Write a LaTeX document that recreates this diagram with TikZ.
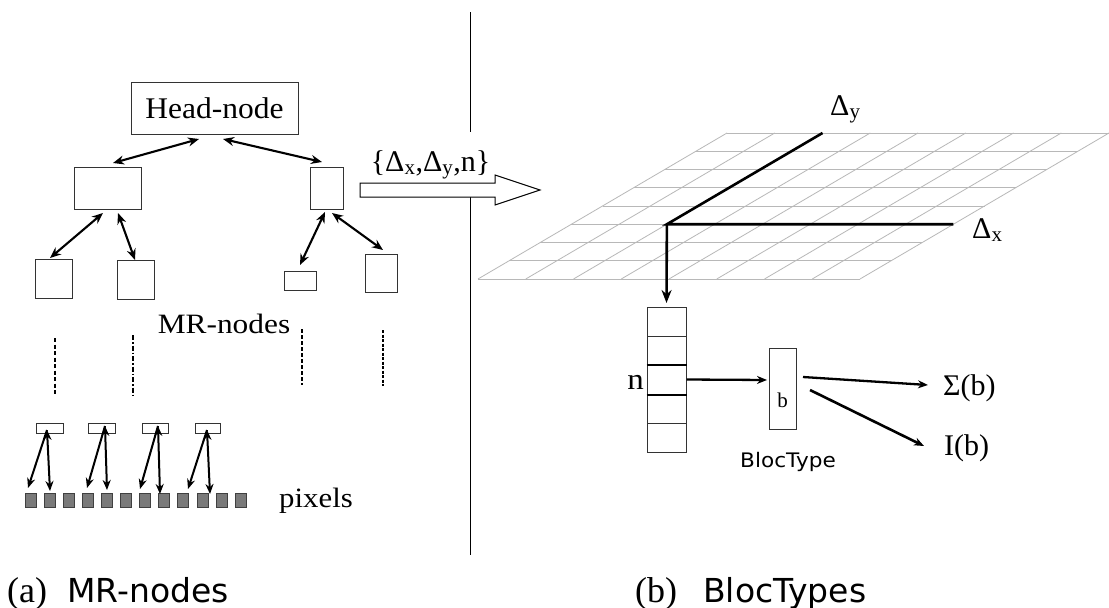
\documentclass[tikz,border=0pt]{standalone}
\usepackage{fontspec}
\setmainfont{Liberation Serif}
\newfontfamily\dvs{DejaVu Sans}
\usetikzlibrary{arrows.meta}
\newcommand\fs[1]{\fontsize{#1}{#1}\selectfont}
\begin{document}
\begin{tikzpicture}[x=1pt,y=-1pt,
  box/.style={draw=black!80, line width=1pt, inner sep=0pt, fill=white},
  pix/.style={draw=black!75, line width=0.8pt, fill=black!52, minimum width=11pt, minimum height=14pt, inner sep=0pt},
  txt/.style={inner sep=0pt, anchor=base},
  tarr/.style={line width=2.1pt, {Stealth[length=11pt,width=9pt]}-{Stealth[length=11pt,width=9pt]}},
  sarr/.style={line width=2pt, -{Stealth[length=10pt,width=8pt]}},
  sarrb/.style={line width=2pt, {Stealth[length=10pt,width=8pt]}-{Stealth[length=10pt,width=8pt]}},
  barr/.style={line width=2.6pt, -{Stealth[length=13pt,width=10pt]}},
  gridl/.style={draw=black!28, line width=0.8pt},
  axis/.style={line width=2.6pt},
]
\useasboundingbox (0,0) rectangle (1109,608);
\fill[white] (0,0) rectangle (1109,608);

% divider
\draw[line width=1pt] (470,12) -- (470,132);
\draw[line width=1pt] (470,197) -- (470,555);

% ---------------- left: tree ----------------
\node[box, minimum width=167pt, minimum height=52pt] (H) at (214.5,108) {};
\node[txt] (Ht) at (214.5,118) {\fs{30}\scalebox{1.05}[1]{Head-node}};
\node[box, minimum width=67pt, minimum height=42pt] (L1) at (107.5,188) {};
\node[box, minimum width=33pt, minimum height=42pt] (R1) at (326.5,188) {};
\node[box, minimum width=37pt, minimum height=39pt] (LL) at (53.5,278.5) {};
\node[box, minimum width=37pt, minimum height=39pt] (LR) at (135.5,279.5) {};
\node[box, minimum width=32pt, minimum height=19pt] (RL) at (300,280.5) {};
\node[box, minimum width=32pt, minimum height=38pt] (RR) at (381,273) {};

\coordinate (h1) at (199,139); \coordinate (l1t) at (113,163);
\coordinate (h2) at (223,139); \coordinate (r1t) at (322,162);
\coordinate (l1a) at (103,213); \coordinate (llt) at (50,258);
\coordinate (l1b) at (118,213); \coordinate (lrt) at (135,260);
\coordinate (r1a) at (325,212); \coordinate (rlt) at (300,265);
\coordinate (r1b) at (332,213); \coordinate (rrt) at (383,250);
\draw[tarr] (h1) -- (l1t);
\draw[tarr] (h2) -- (r1t);
\draw[tarr] (l1a) -- (llt);
\draw[tarr] (l1b) -- (lrt);
\draw[tarr] (r1a) -- (rlt);
\draw[tarr] (r1b) -- (rrt);

\node[txt] (mr) at (224,333) {\fs{28}\scalebox{1.12}[1]{MR-nodes}};

% dashed continuations
\coordinate (d1a) at (55,338); \coordinate (d1b) at (55,395);
\coordinate (d2a) at (133,335); \coordinate (d2b) at (133,397);
\coordinate (d3a) at (302,329); \coordinate (d3b) at (302,385);
\coordinate (d4a) at (383,330); \coordinate (d4b) at (383,386);
\draw[line width=1.6pt, dash pattern=on 4pt off 2.5pt] (d1a) -- (d1b);
\draw[line width=1.4pt, dash pattern=on 5pt off 2pt on 1.5pt off 2pt] (d2a) -- (d2b);
\draw[line width=1.8pt, dash pattern=on 4pt off 2pt] (d3a) -- (d3b);
\draw[line width=2.6pt, dash pattern=on 3pt off 1.5pt] (d4a) -- (d4b);

% lowest level boxes
\node[box, minimum width=27pt, minimum height=10pt] (s1) at (49.5,428) {};
\node[box, minimum width=27pt, minimum height=10pt] (s2) at (101.5,428) {};
\node[box, minimum width=26pt, minimum height=10pt] (s3) at (155,428) {};
\node[box, minimum width=25pt, minimum height=10pt] (s4) at (207.5,428) {};

% pixels
\foreach \i in {0,...,11} {
  \node[pix] (p\i) at ({30.5+19.1*\i},500) {};
}
\node[txt] (pxl) at (316,507) {\fs{28}\scalebox{1.1}[1]{pixels}};

\coordinate (s1b) at (47,430); \coordinate (s1d) at (28,488); \coordinate (s1v) at (50,491);
\coordinate (s2b) at (105,426); \coordinate (s2d) at (87,488); \coordinate (s2v) at (107,490);
\coordinate (s3b) at (158,426); \coordinate (s3d) at (140,489); \coordinate (s3v) at (160,494);
\coordinate (s4b) at (207,430); \coordinate (s4d) at (188,489); \coordinate (s4v) at (210,494);
\foreach \k in {1,2,3,4} {
  \draw[sarrb] (s\k b) -- (s\k v);
  \draw[sarr] (s\k b) -- (s\k d);
}

% ---------------- transfer arrow ----------------
\node[txt, fill=white, inner sep=1pt] (tl) at (430.5,171) {\fs{30}\{Δ\textsubscript{x},Δ\textsubscript{y},n\}};
\draw[line width=1pt, fill=white] (360,183) -- (495,183) -- (495,175) -- (540,190) -- (495,205) -- (495,197) -- (360,197) -- cycle;

% ---------------- right: grid ----------------
\def\gx{478}\def\gy{279}\def\gw{47.75}\def\gs{31.125}\def\gh{18.25}
\foreach \r in {0,...,8} {
  \draw[gridl] ({\gx+\gs*\r},{\gy-\gh*\r}) -- ({\gx+8*\gw+\gs*\r},{\gy-\gh*\r});
}
\foreach \c in {0,...,8} {
  \draw[gridl] ({\gx+\gw*\c},\gy) -- ({\gx+\gw*\c+8*\gs},{\gy-8*\gh});
}
\coordinate (O) at ({\gx+2*\gw+3*\gs},{\gy-3*\gh});
\coordinate (DX) at ({\gx+8*\gw+3*\gs},{\gy-3*\gh});
\coordinate (DY) at ({\gx+2*\gw+8*\gs},{\gy-8*\gh});
\draw[axis] (DY) -- (O) -- (DX);
\node[txt, anchor=base west] (ly) at (830,115) {\fs{30}Δ\textsubscript{y}};
\node[txt, anchor=base west] (lx) at (972,238) {\fs{30}Δ\textsubscript{x}};

% stack
\foreach \j in {1,...,5} {
  \node[box, minimum width=39pt, minimum height=29pt] (c\j) at (666.5,{292.5+29*\j}) {};
}
\draw[line width=2pt] (c3.north west) -- (c3.north east);
\draw[line width=2pt] (c3.south west) -- (c3.south east);
\coordinate (Ot) at (666.5,303);
\draw[barr] (O) -- (Ot);
\node[txt, anchor=base east] (nl) at (644,389) {\fs{30}\scalebox{1.1}[1]{n}};

% BlocType box
\node[box, minimum width=27pt, minimum height=81pt] (bb) at (782.5,388.5) {};
\node[txt] (bt) at (782.5,407) {\fs{21}b};
\node[txt] (blt) at (788,467) {\dvs\fs{20}\scalebox{1.08}[1]{BlocType}};
\coordinate (bin) at (767,380);
\draw[sarr, line width=2.3pt] (c3.east) -- (bin);

\node[txt, anchor=base west] (sig) at (943,395) {\fs{30}Σ(b)};
\node[txt, anchor=base west] (ib) at (944,455) {\fs{30}I(b)};
\coordinate (b1) at (803,377); \coordinate (b1e) at (928,385);
\coordinate (b2) at (810,390); \coordinate (b2e) at (924,446);
\draw[sarr, line width=2.3pt] (b1) -- (b1e);
\draw[sarr, line width=2.6pt] (b2) -- (b2e);

% captions
\node[txt, anchor=base west] (ca) at (7,602) {\fs{36}(a)};
\node[txt, anchor=base west] (cam) at (67,602) {\dvs\fs{33}MR-nodes};
\node[txt, anchor=base west] (cb) at (635,602) {\fs{36}(b)};
\node[txt, anchor=base west] (cbm) at (703,602) {\dvs\fs{33}BlocTypes};
\end{tikzpicture}
\end{document}
